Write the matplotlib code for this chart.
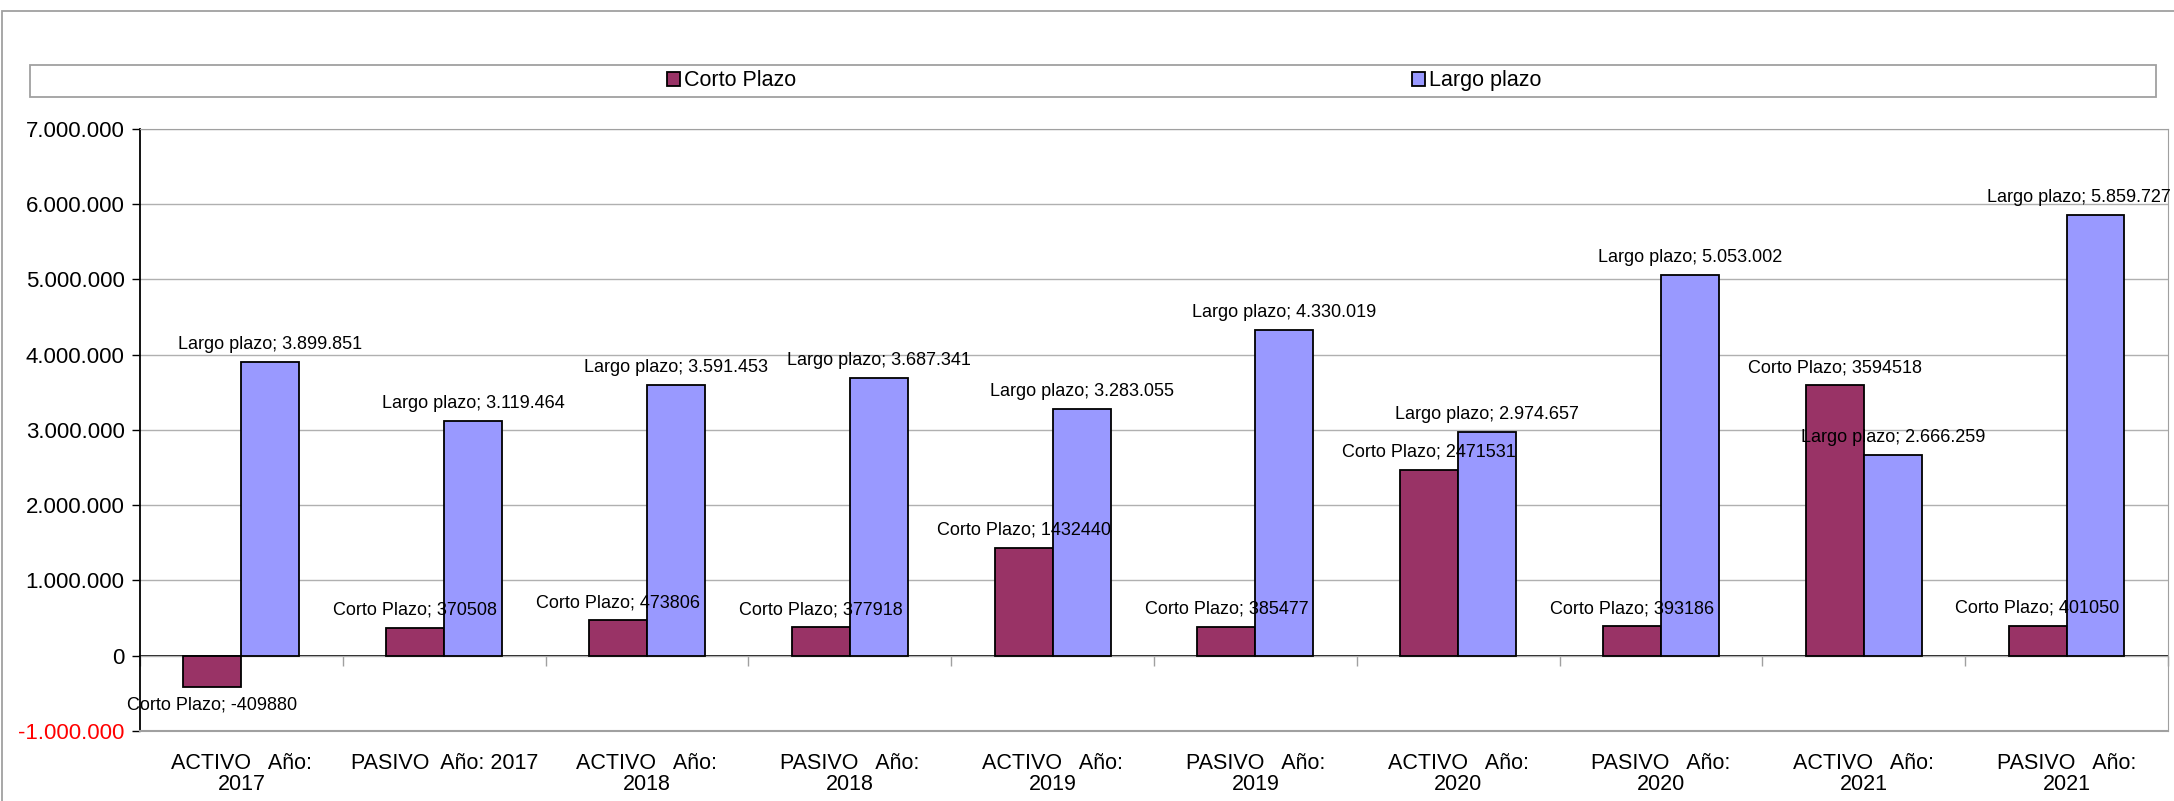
import matplotlib.pyplot as plt
import matplotlib.patches as mpatches
import numpy as np
from matplotlib.ticker import FuncFormatter

plt.rcParams['font.family'] = ['Liberation Sans', 'DejaVu Sans']

# data
categorias = ["ACTIVO   Año:\n2017", "PASIVO  Año: 2017", "ACTIVO   Año:\n2018", "PASIVO   Año:\n2018",
              "ACTIVO   Año:\n2019", "PASIVO   Año:\n2019", "ACTIVO   Año:\n2020", "PASIVO   Año:\n2020",
              "ACTIVO   Año:\n2021", "PASIVO   Año:\n2021"]
corto_plazo = [-409880, 370508, 473806, 377918, 1432440, 385477, 2471531, 393186, 3594518, 401050]
largo_plazo = [3899851, 3119464, 3591453, 3687341, 3283055, 4330019, 2974657, 5053002, 2666259, 5859727]

col_corto = "#993366"
col_largo = "#9999FF"


def miles(v):
    return f"{v:,.0f}".replace(",", ".")


fig = plt.figure(figsize=(21.74, 8.01), dpi=100)
ax = fig.add_axes([0.0644, 0.0874, 0.9328, 0.7516])

x = np.arange(len(categorias))
w = 1 / 3.5
b1 = ax.bar(x - w / 2, corto_plazo, w, color=col_corto, edgecolor="black", lw=1.3, label="Corto Plazo", zorder=3)
b2 = ax.bar(x + w / 2, largo_plazo, w, color=col_largo, edgecolor="black", lw=1.3, label="Largo plazo", zorder=3)

ax.set_xlim(-0.5, len(categorias) - 0.5)
ax.set_ylim(-1000000, 7000000)
ax.set_yticks(np.arange(-1000000, 7000001, 1000000))
ax.yaxis.set_major_formatter(FuncFormatter(lambda v, p: miles(v)))
ax.yaxis.grid(True, color="#b0b0b0", lw=1.0, zorder=0)
ax.tick_params(axis="y", labelsize=16, length=6, width=1, pad=5)
for t in ax.get_yticklabels():
    if t.get_text().startswith("-"):
        t.set_color("red")

ax.set_xticks(x)
ax.set_xticklabels(categorias, fontsize=15.5, linespacing=1.0)
ax.tick_params(axis="x", length=0, pad=16)

for s in ["top", "right"]:
    ax.spines[s].set_color("#a0a0a0")
ax.spines["bottom"].set_color("#a0a0a0")
ax.spines["bottom"].set_linewidth(1.5)
ax.spines["left"].set_color("black")
ax.spines["left"].set_linewidth(1.3)

# category axis at zero with boundary ticks
sec = ax.secondary_xaxis(0.125)
sec.set_xticks(np.arange(-0.5, len(categorias), 1.0))
sec.set_xticklabels([])
sec.tick_params(direction="out", length=7, color="#a0a0a0", width=1)
sec.spines["bottom"].set_color("black")
sec.spines["bottom"].set_linewidth(1.3)

# data labels
fs = 13
for i in range(len(categorias)):
    v = corto_plazo[i]
    txt = f"Corto Plazo; {v}"
    if v < 0:
        ax.annotate(txt, (x[i] - w / 2, v), xytext=(0, -7), textcoords="offset points",
                    ha="center", va="top", fontsize=fs, zorder=5)
    else:
        ax.annotate(txt, (x[i] - w / 2, v), xytext=(0, 6.5), textcoords="offset points",
                    ha="center", va="bottom", fontsize=fs, zorder=5)
    v = largo_plazo[i]
    txt = f"Largo plazo; {miles(v)}"
    if i == len(categorias) - 1:
        ax.annotate(txt, (1.0, v), xycoords=("axes fraction", "data"), xytext=(2, 6.5),
                    textcoords="offset points", ha="right", va="bottom", fontsize=fs,
                    zorder=5, annotation_clip=False)
    else:
        ax.annotate(txt, (x[i] + w / 2, v), xytext=(0, 6.5), textcoords="offset points",
                    ha="center", va="bottom", fontsize=fs, zorder=5)

# legend box
fig.patches.append(mpatches.Rectangle((0.0138, 0.879), 0.978, 0.040, transform=fig.transFigure,
                                      fill=False, edgecolor="#a0a0a0", lw=1.3))
fig.legend(handles=[b1, b2], loc="center", bbox_to_anchor=(0.508, 0.899), ncol=2, frameon=False,
           fontsize=15.5, handlelength=0.6, handleheight=0.6, handletextpad=0.2, columnspacing=28.6)

# chart border
fig.patches.append(mpatches.Rectangle((0.001, -0.05), 1.2, 1.036, transform=fig.transFigure,
                                      fill=False, edgecolor="#a0a0a0", lw=1.3))

fig.savefig("out.png", dpi=100)
